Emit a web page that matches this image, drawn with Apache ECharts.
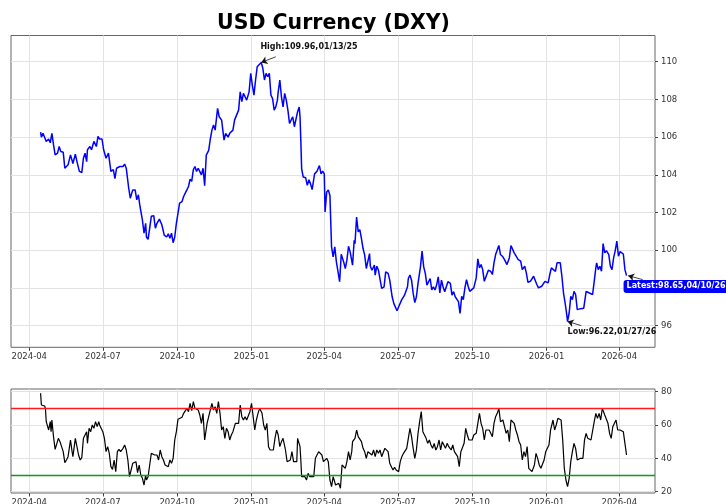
<!DOCTYPE html>
<html>
<head>
<meta charset="utf-8">
<script src="https://cdn.jsdelivr.net/npm/echarts@6/dist/echarts.min.js"></script>
<style>
  html, body { margin: 0; padding: 0; background: #fff; }
  #chart { width: 726px; height: 504px; }
</style>
</head>
<body>
<div id="chart"></div>
<script>
// USD index (DXY) close + RSI panel
// x values are calendar days counted from 2024-04-01
const dxyDays = [
  14,15,17,19,21,24,26,28,30,32,35,37,39,42,44,48,51,54,57,59,62,65,67,69,71,72,75,77,80,83,
  85,87,90,92,95,98,101,104,106,108,112,116,118,120,123,125,128,131,133,135,137,140,142,144,145,147,149,151,154,156,
  158,161,164,167,170,172,174,176,178,180,182,186,189,191,193,195,197,199,201,203,205,207,209,211,213,215,217,219,222,224,
  226,228,230,233,235,238,241,243,246,248,252,254,256,259,261,263,265,267,269,272,274,276,278,280,282,287,289,291,293,295,
  297,299,301,303,305,307,308,310,312,314,316,318,320,322,324,326,328,330,332,334,335,336,337,339,342,344,346,348,350,353,
  356,358,359,361,363,365,366,368,370,372,374,376,378,380,382,384,386,389,391,393,395,397,400,402,403,405,407,409,411,413,
  415,417,419,421,422,424,427,428,430,432,434,436,439,441,444,446,449,451,453,455,458,461,464,466,468,469,471,473,475,477,
  479,481,484,486,488,490,492,494,496,498,500,502,504,506,508,510,512,514,516,518,521,523,525,527,529,531,533,535,537,539,
  541,543,545,547,550,553,555,557,559,561,563,565,568,571,573,575,577,579,581,583,586,588,591,594,596,598,600,602,605,608,
  610,613,615,617,620,622,624,626,628,630,632,634,636,638,640,642,644,646,648,651,653,655,657,659,661,663,665,666,668,670,
  672,674,676,678,680,682,684,686,689,691,693,695,697,699,701,702,704,706,708,710,712,714,717,719,721,723,725,727,729,731,
  733,735,737,739
];
const dxyClose = [
  106.27,106.0,106.2,106.16,105.77,105.9,105.7,106.2,105.6,105.06,105.15,105.5,105.24,105.2,104.35,104.53,105.06,104.6,105.1,104.7,104.18,104.12,104.88,105.15,104.7,105.33,105.5,105.33,105.77,105.5,
  106.04,105.9,105.9,105.33,104.88,105.15,104.18,104.27,103.8,104.35,104.44,104.44,104.57,104.35,103.3,102.76,103.2,103.2,102.67,102.94,102.32,101.6,100.9,101.43,100.7,100.58,101.17,101.8,101.83,101.17,
  101.43,101.65,101.35,100.8,100.7,100.87,100.64,100.9,100.4,100.7,101.43,102.5,102.58,102.85,103.03,103.2,103.38,103.77,103.65,104.27,104.44,104.18,104.35,104.27,104.0,104.35,103.42,105.04,105.3,105.9,
  106.37,106.64,106.37,107.52,107.08,106.9,105.84,106.2,106.0,106.2,106.37,106.9,106.99,107.43,108.4,107.88,108.32,108.14,107.96,108.4,109.38,108.76,108.23,109.03,109.73,109.96,109.65,109.03,109.38,109.2,
  109.38,108.23,108.05,107.43,107.6,107.96,108.4,109.03,108.14,107.6,108.32,107.96,107.43,106.73,106.64,107.08,106.55,106.46,107.35,107.6,107.08,105.8,104.32,103.88,103.84,103.44,103.74,103.52,103.22,104.05,
  104.19,104.23,104.49,104.05,104.19,104.05,102.03,103.08,103.2,102.9,100.18,99.65,100.18,99.38,99.3,98.33,99.79,99.38,99.03,99.47,100.21,99.91,99.21,100.53,100.35,101.76,100.97,101.09,100.62,100.09,
  99.74,99.03,98.94,99.82,99.15,98.94,99.21,98.68,99.15,98.94,99.03,97.97,98.06,98.85,98.77,98.41,97.53,97.18,97.09,96.79,97.09,97.39,97.59,97.67,98.06,98.5,98.68,98.41,97.71,97.22,
  97.53,98.24,99.12,99.95,99.12,98.77,98.15,98.2,98.5,97.89,98.06,97.89,98.15,98.59,97.74,98.41,98.06,97.8,97.8,98.33,98.24,97.62,97.8,97.53,97.53,97.27,96.65,97.56,97.38,98.0,
  98.44,98.09,97.82,97.73,98.0,98.53,99.54,99.06,99.24,98.97,98.35,98.44,98.94,98.88,98.71,99.33,99.77,99.86,100.25,99.77,99.65,99.5,99.24,99.59,100.25,100.21,99.86,99.77,99.5,99.42,
  98.97,99.15,98.8,98.3,98.35,98.27,98.62,98.53,98.18,98.0,98.0,98.09,98.09,98.35,98.35,98.27,98.71,99.06,99.15,98.88,99.33,99.42,99.33,98.62,97.73,97.2,96.58,96.22,96.67,97.56,
  97.38,97.82,97.65,96.85,96.94,96.9,97.0,96.92,97.82,97.91,97.73,97.82,97.65,98.35,99.06,99.33,98.97,99.15,98.88,100.35,99.86,99.98,99.77,99.15,98.97,99.59,99.98,100.48,99.68,99.93,
  99.86,99.8,98.97,98.65
];
const rsiDays = [
  14,15,17,19,20,21,23,24,26,27,28,30,32,34,36,38,40,42,44,46,48,51,53,54,57,59,61,63,65,67,
  69,71,72,74,76,78,80,82,84,86,87,89,91,93,95,97,99,101,103,105,107,109,111,113,116,118,120,122,124,126,
  128,130,132,134,136,138,140,142,144,145,147,149,151,153,155,158,160,162,164,166,168,170,172,174,176,178,180,182,184,186,
  189,191,193,195,197,199,201,203,205,207,209,211,213,215,217,220,222,224,226,228,230,232,234,236,238,240,242,244,246,248,
  250,252,255,257,259,261,263,265,267,269,271,273,275,277,279,281,283,285,288,290,292,294,296,298,300,302,304,306,308,310,
  312,314,317,319,321,323,325,327,329,331,332,334,335,336,337,339,341,343,345,347,349,352,354,356,358,360,362,364,366,368,
  370,372,374,376,379,381,383,385,387,389,391,393,395,397,399,400,403,405,407,409,411,413,415,417,419,421,424,426,428,430,
  432,434,436,438,440,442,444,446,448,450,452,454,457,459,461,463,465,467,469,471,473,475,477,479,481,483,485,487,489,491,
  493,495,497,499,501,503,505,507,509,511,513,515,517,519,522,524,526,528,530,532,534,536,538,540,542,544,546,548,550,553,
  555,557,559,561,563,565,567,569,571,573,575,577,579,581,583,586,588,590,592,594,596,598,600,602,604,606,608,610,612,614,
  616,618,620,622,625,627,629,631,633,635,637,639,641,643,645,648,650,652,654,656,658,660,662,664,666,668,670,672,674,676,
  678,680,682,685,687,689,691,693,695,697,699,701,703,705,707,709,710,712,714,716,718,720,722,724,726,728,731,733,735,737,
  739
];
const rsiValues = [
  79,72,72.6,71.4,70,62,61,57,62,56,63,53,45.4,46,52,50,49,44,37.4,39,41,51,44,41,52,47,42,39,40.4,52,
  54,56,49,58,56,60,58,62,59,62,60,59.4,56,52,44,47,43,35,33.4,39,32,44,45.4,44,46,48,45,39,29,33,
  37,37,38,31.4,36,30,28,24,30,27,29,36,43,44,42,42,39,45,41,39,36,37,35,39,37,40,51,56,63.4,64,
  64.6,67,68,70,68,73,68.6,74,70,70,69,66,61,67,51,61,65,69,73,69,71,67,74,67,57,59,52,58,56,51,
  54,56,61,62,61,72,65,63,65,63,64,68,73,65,57,63,67,70,67,60,57,61,47,45,46,45,52,57,54,47,
  50,52,45,38,37,39,44,38,39,38,52,53,47,39,29,28,29,27,31,29,30,29,40,42,44,45,42,38,39,40,
  38,27,23,29,24,23,25,22,36,35,34,38,44,39,44,50,52,57,53,52,50,46,44,40,44,44,42,45,41,45,
  43,45,41,40,46,47,44,37,35,33,34.6,33,32,38,41,43,44,46,52,58,53,46,40,45,55,62,68,56,55,52,
  49,51,48,46,49,45,47,51,45,50,49,46,49,47,45,48,44,43,41,35,44,43,49,58,54,51,50,51,54,55,
  61,67,61,58,51,57,56,57,55,53,61,65,67,70,62,63,59,55,57,50,63,64,61,57,54,50,48,39,44,41,
  47,34,35,32,36,43,40,36,34,35,39,44,46,48,57,63,57,60,64,64.4,63,51,34,27,23,28,38,44,49,46,
  39,40,40,40,51,55,52,52,51,52,62,67,64,67,63,70,71,66,67,61,55,52,59,61,63,57,57,57,56,49,
  42
];
const quarterTicks = ['2024-04','2024-07','2024-10','2025-01','2025-04','2025-07','2025-10','2026-01','2026-04'];
const dxyTicks = [96, 98, 100, 102, 104, 106, 108, 110];
const rsiTicks = [20, 40, 60, 80];
const rsiOverbought = 70;
const rsiOversold = 30;

const xRangeDays = [-22.6, 774.2];
const dxyRange = [94.85, 111.39];
const rsiRange = [19.2, 81.6];

const FONT = 'DejaVu Sans';
const DAY = 86400000;
const baseTs = new Date(2024, 3, 1).getTime();
const dayToTs = d => baseTs + d * DAY;
const tickTs = quarterTicks.map(s => new Date(+s.slice(0, 4), +s.slice(5, 7) - 1, 1).getTime());
const pad = n => String(n).padStart(2, '0');
const fmtMonth = v => { const t = new Date(v); return t.getFullYear() + '-' + pad(t.getMonth() + 1); };
const fmtDay = d => {
  const t = new Date(2024, 3, 1 + d);
  return pad(t.getMonth() + 1) + '/' + pad(t.getDate()) + '/' + String(t.getFullYear()).slice(2);
};

// high / low / latest for the notes
let hi = 0, lo = 0;
dxyClose.forEach((v, i) => {
  if (v > dxyClose[hi]) hi = i;
  if (v < dxyClose[lo]) lo = i;
});
const last = dxyClose.length - 1;
const pt = i => [dayToTs(dxyDays[i]), dxyClose[i]];

const noteLabel = {
  show: true, position: 'right', distance: 0,
  fontFamily: FONT, fontSize: 8, fontWeight: 'bold', color: '#111'
};

const chart = echarts.init(document.getElementById('chart'), null, { renderer: 'canvas' });

// timestamps on a plain value axis, ticks only at quarter starts
const xAxisFor = gridIndex => ({
  type: 'value',
  gridIndex,
  min: dayToTs(xRangeDays[0]),
  max: dayToTs(xRangeDays[1]),
  axisLine: { show: false },
  axisTick: { show: true, customValues: tickTs, length: 3.5, lineStyle: { color: '#444', width: 1 } },
  axisLabel: { customValues: tickTs, formatter: fmtMonth, fontFamily: FONT, fontSize: 8.5, color: '#333', margin: 5 },
  splitLine: { show: true, lineStyle: { color: '#e3e3e3', width: 1 } }
});

const yAxisFor = (gridIndex, range, ticks) => ({
  type: 'value',
  gridIndex,
  position: 'right',
  min: range[0],
  max: range[1],
  axisLine: { show: false },
  axisTick: { show: true, customValues: ticks, length: 3, lineStyle: { color: '#444', width: 1 } },
  axisLabel: { customValues: ticks, fontFamily: FONT, fontSize: 8.5, color: '#333', margin: 6 },
  splitLine: { show: true, lineStyle: { color: '#e3e3e3', width: 1 } }
});

chart.setOption({
  animation: false,
  backgroundColor: '#fff',
  title: {
    text: 'USD Currency (DXY)',
    left: 217, top: 13, padding: 0,
    textStyle: { fontFamily: FONT, fontSize: 20.5, fontWeight: 'bold', color: '#000' }
  },
  grid: [
    { left: 11, top: 35.5, width: 644, height: 311.8, show: true, borderColor: '#666', borderWidth: 1, outerBoundsMode: 'none' },
    { left: 11, top: 389, width: 644, height: 104, show: true, borderColor: '#666', borderWidth: 1, outerBoundsMode: 'none' }
  ],
  xAxis: [xAxisFor(0), xAxisFor(1)],
  yAxis: [yAxisFor(0, dxyRange, dxyTicks), yAxisFor(1, rsiRange, rsiTicks)],
  series: [
    {
      name: 'DXY',
      type: 'line',
      xAxisIndex: 0, yAxisIndex: 0,
      data: dxyDays.map((d, i) => [dayToTs(d), dxyClose[i]]),
      symbol: 'none',
      clip: false,
      lineStyle: { color: '#0000ff', width: 1.5 },
      z: 3,
      markLine: {
        silent: true,
        symbol: ['none', 'arrow'],
        symbolSize: 6,
        label: { show: false },
        lineStyle: { color: '#111', width: 0.8, type: 'solid' },
        data: [
          [{ coord: [dayToTs(dxyDays[hi] + 18), dxyClose[hi] + 0.3] }, { coord: pt(hi) }],
          [{ coord: [dayToTs(dxyDays[lo] + 17), dxyClose[lo] - 0.22] }, { coord: pt(lo) }],
          [{ coord: [dayToTs(dxyDays[last] + 20), dxyClose[last] - 0.21] }, { coord: [dayToTs(dxyDays[last] + 2), dxyClose[last]] }]
        ]
      },
      markPoint: {
        silent: true,
        symbol: 'circle',
        symbolSize: 0,
        data: [
          {
            coord: [dayToTs(dxyDays[hi] - 1), dxyClose[hi] + 0.82],
            label: { ...noteLabel, formatter: 'High:' + dxyClose[hi].toFixed(2) + ',' + fmtDay(dxyDays[hi]) }
          },
          {
            coord: [dayToTs(dxyDays[lo]), dxyClose[lo] - 0.55],
            label: { ...noteLabel, formatter: 'Low:' + dxyClose[lo].toFixed(2) + ',' + fmtDay(dxyDays[lo]) }
          },
          {
            coord: [dayToTs(dxyDays[last] - 3.7), dxyClose[last] - 0.57],
            label: {
              ...noteLabel, color: '#fff', backgroundColor: '#0000ff',
              padding: [3, 3, 2, 3], borderRadius: 3,
              formatter: 'Latest:' + dxyClose[last].toFixed(2) + ',' + fmtDay(dxyDays[last])
            }
          }
        ]
      }
    },
    {
      name: 'RSI',
      type: 'line',
      xAxisIndex: 1, yAxisIndex: 1,
      data: rsiDays.map((d, i) => [dayToTs(d), rsiValues[i]]),
      symbol: 'none',
      lineStyle: { color: '#000', width: 1.2 },
      z: 3,
      markLine: {
        silent: true,
        symbol: 'none',
        label: { show: false },
        data: [
          { yAxis: rsiOverbought, lineStyle: { color: '#ff1a1a', width: 1.4, type: 'solid' } },
          { yAxis: rsiOversold, lineStyle: { color: '#119911', width: 1.4, type: 'solid' } }
        ]
      }
    }
  ]
});
</script>
</body>
</html>
